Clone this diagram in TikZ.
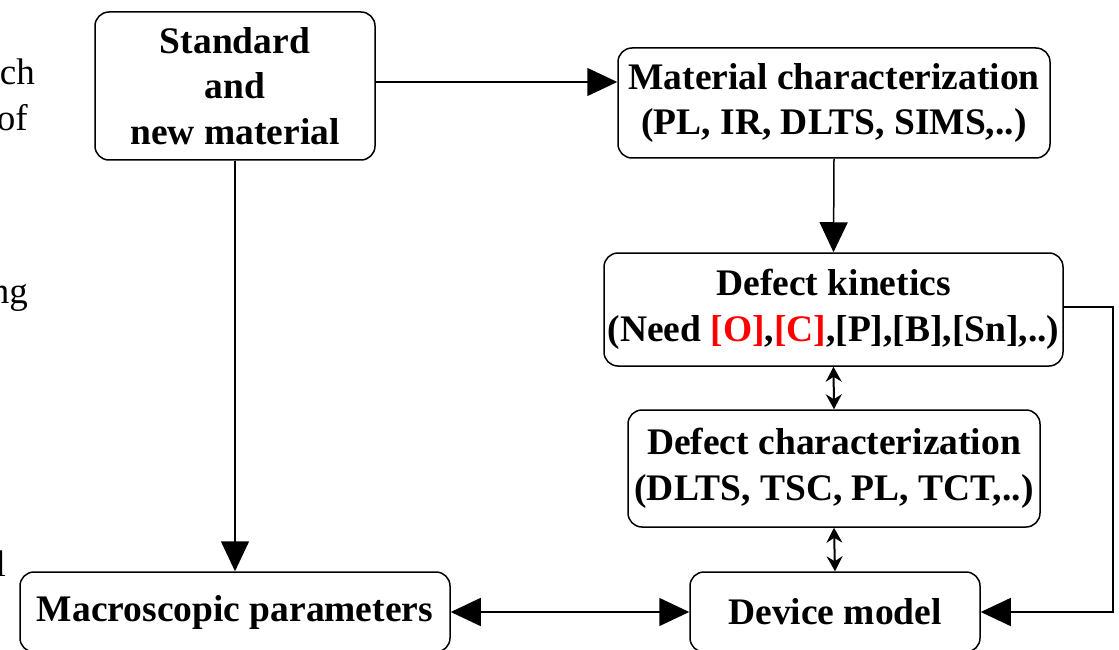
\documentclass[tikz,border=0pt]{standalone}
\usepackage{fontspec}
\setmainfont{Liberation Serif}
\usetikzlibrary{arrows.meta}
\begin{document}
\begin{tikzpicture}[x=1pt,y=-1pt,
  box/.style={draw, line width=1.5pt, rounded corners=14pt, align=center, inner sep=0pt,
    font=\fontsize{37.5}{45.5}\selectfont\bfseries},
  conn/.style={line width=1.5pt},
  bigtip/.style={-{Triangle[length=30pt,width=28pt]}},
  bigtips/.style={{Triangle[length=30pt,width=28pt]}-{Triangle[length=30pt,width=28pt]}},
  smalltips/.style={line width=2pt, {Stealth[length=15pt,width=16pt,inset=5pt]}-{Stealth[length=15pt,width=16pt,inset=5pt]}},
  frag/.style={anchor=base east, inner sep=0pt, font=\fontsize{37}{40}\selectfont}]
\useasboundingbox (0,0) rectangle (1119,650);
\node[box, minimum width=280pt, minimum height=148pt] (std) at (235,86) {Standard\\and\\new material};
\node[box, minimum width=432pt, minimum height=110pt] (mat) at (834,103) {Material characterization\\(PL, IR, DLTS, SIMS,..)};
\node[box, minimum width=459pt, minimum height=113pt] (kin) at (833.5,309.5) {Defect kinetics\\(Need \textcolor{red}{[O]},\textcolor{red}{[C]},[P],[B],[Sn],..)};
\node[box, minimum width=412pt, minimum height=117pt] (dch) at (834,468.5) {Defect characterization\\(DLTS, TSC, PL, TCT,..)};
\node[box, minimum width=430pt, minimum height=80pt] (mac) at (235,612) {Macroscopic parameters};
\node[box, minimum width=290pt, minimum height=80pt] (dev) at (835,612) {Device model};
\node[frag] (f1) at (35,85) {ch};
\node[frag] (f2) at (28,131) {of};
\node[frag] (f3) at (28,303) {ng};
\node[frag] (f4) at (6,576) {l};
\coordinate (a) at (0,82);
\coordinate (c1) at (1113,307);
\coordinate (c2) at (1113,612);
\draw[conn,bigtip] (std.east |- a) -- (mat.west |- a);
\draw[conn,bigtip] (mat.south) -- (kin.north);
\draw[conn,bigtip] (std.south) -- (mac.north);
\draw[conn,smalltips] (kin.south) -- (dch.north);
\draw[conn,smalltips] (dch.south) -- (dev.north);
\draw[conn,bigtips] (mac.east) -- (dev.west);
\draw[conn,bigtip] (kin.east |- c1) -- (c1) -- (c2) -- (dev.east);
\end{tikzpicture}
\end{document}
